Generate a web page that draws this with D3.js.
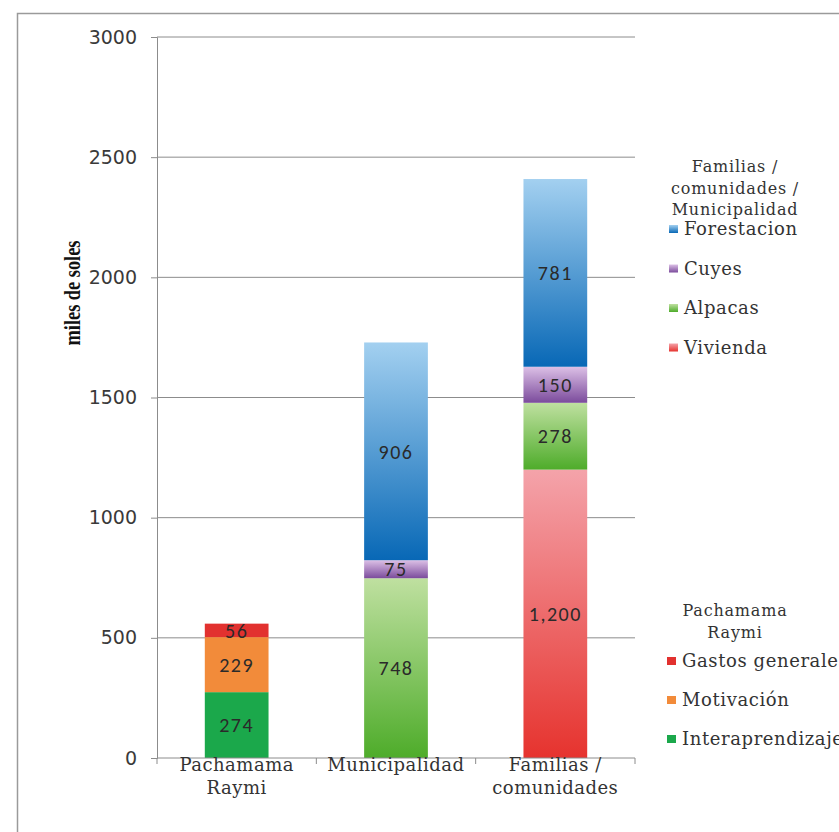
<!DOCTYPE html>
<html>
<head>
<meta charset="utf-8">
<script src="https://cdn.jsdelivr.net/npm/d3@7"></script>
<style>
  body { margin: 0; background: #fff; }
  svg { display: block; }
</style>
</head>
<body>
<script>
// Data
const categories = ['Pachamama Raymi', 'Municipalidad', 'Familias / comunidades'];
const categoryLines = [['Pachamama', 'Raymi'], ['Municipalidad'], ['Familias /', 'comunidades']];
const series = ['Interaprendizaje', 'Motivación', 'Gastos generales', 'Vivienda', 'Alpacas', 'Cuyes', 'Forestacion'];
const interaprendizaje = [274, 0, 0];
const motivacion = [229, 0, 0];
const gastosGenerales = [56, 0, 0];
const vivienda = [0, 0, 1200];
const alpacas = [0, 748, 278];
const cuyes = [0, 75, 150];
const forestacion = [0, 906, 781];
const yTicks = [0, 500, 1000, 1500, 2000, 2500, 3000];
const legendFamilias = ['Forestacion', 'Cuyes', 'Alpacas', 'Vivienda'];
const legendPacha = ['Gastos generales', 'Motivación', 'Interaprendizaje'];

const values = {
  'Interaprendizaje': interaprendizaje,
  'Motivación': motivacion,
  'Gastos generales': gastosGenerales,
  'Vivienda': vivienda,
  'Alpacas': alpacas,
  'Cuyes': cuyes,
  'Forestacion': forestacion
};

// colours: [top, bottom] for gradient fills
const fills = {
  'Interaprendizaje': ['#1ba84b', '#1ba84b'],
  'Motivación': ['#f28b3a', '#f28b3a'],
  'Gastos generales': ['#e2312f', '#e2312f'],
  'Vivienda': ['#f4a3aa', '#e6332e'],
  'Alpacas': ['#bfe0a0', '#4eac2a'],
  'Cuyes': ['#dcc0e6', '#7b4b9c'],
  'Forestacion': ['#a3d0f0', '#0868b6']
};

const W = 839, H = 832;
const svg = d3.select('body').append('svg').attr('width', W).attr('height', H);

const defs = svg.append('defs');
series.forEach((s, i) => {
  const g = defs.append('linearGradient').attr('id', 'grad' + i)
    .attr('x1', 0).attr('y1', 0).attr('x2', 0).attr('y2', 1);
  g.append('stop').attr('offset', '0%').attr('stop-color', fills[s][0]);
  g.append('stop').attr('offset', '100%').attr('stop-color', fills[s][1]);
});
const fillOf = s => `url(#grad${series.indexOf(s)})`;

// frame
svg.append('rect').attr('x', 17.5).attr('y', 13.5).attr('width', W).attr('height', H)
  .attr('fill', '#fff').attr('stroke', '#9a9a9a').attr('stroke-width', 1.5);

const x0 = 157, x1 = 635, yTop = 37, yBot = 758;
const x = d3.scaleBand().domain(categories).range([x0, x1]).paddingInner(0.6).paddingOuter(0.3);
const y = d3.scaleLinear().domain([0, 3000]).range([yBot, yTop]);

// gridlines
svg.append('g').selectAll('line').data(yTicks.filter(d => d > 0)).join('line')
  .attr('x1', x0).attr('x2', x1).attr('y1', d => y(d)).attr('y2', d => y(d))
  .attr('stroke', '#8c8c8c').attr('stroke-width', 1);

// stacked data
const table = categories.map((c, i) => {
  const row = { cat: c };
  series.forEach(s => row[s] = values[s][i]);
  return row;
});
const stacked = d3.stack().keys(series)(table);

const bars = svg.append('g');
stacked.forEach(layer => {
  bars.selectAll(null).data(layer.filter(d => d[1] - d[0] > 0)).join('rect')
    .attr('x', d => x(d.data.cat))
    .attr('width', x.bandwidth())
    .attr('y', d => y(d[1]))
    .attr('height', d => y(d[0]) - y(d[1]))
    .attr('fill', fillOf(layer.key));
});

// data labels
const fmt = d3.format(',');
stacked.forEach(layer => {
  bars.selectAll(null).data(layer.filter(d => d[1] - d[0] > 0)).join('text')
    .attr('x', d => x(d.data.cat) + x.bandwidth() / 2)
    .attr('y', d => (y(d[0]) + y(d[1])) / 2)
    .attr('dy', '0.36em')
    .attr('text-anchor', 'middle')
    .style('font-family', 'Carlito, Lato, sans-serif')
    .style('font-size', '20px')
    .style('letter-spacing', '1.5px')
    .attr('fill', '#2a2a2a')
    .text(d => fmt(d[1] - d[0]));
});

// axes
const yAxis = d3.axisLeft(y).tickValues(yTicks).tickSize(6).tickPadding(14).tickFormat(d3.format('d'));
const gy = svg.append('g').attr('transform', `translate(${x0},0)`).call(yAxis);
gy.select('.domain').attr('stroke', '#8c8c8c');
gy.selectAll('.tick line').attr('stroke', '#8c8c8c');
gy.selectAll('text').style('font-family', 'DejaVu Sans, sans-serif').style('font-size', '19px').attr('fill', '#3a3a3a');

svg.append('line').attr('x1', x0).attr('x2', x1).attr('y1', yBot).attr('y2', yBot).attr('stroke', '#8c8c8c');
const bounds = [x0].concat(categories.map(c => x(c) + x.bandwidth() + x.step() * 0.3));
svg.append('g').selectAll('line').data(bounds).join('line')
  .attr('x1', d => d).attr('x2', d => d).attr('y1', yBot).attr('y2', yBot + 6)
  .attr('stroke', '#8c8c8c');

const serif = 'DejaVu Serif, serif';
categories.forEach((c, i) => {
  const t = svg.append('text').attr('x', x(c) + x.bandwidth() / 2).attr('y', 771)
    .attr('text-anchor', 'middle').style('font-family', serif).style('font-size', '18px')
    .style('letter-spacing', '0.5px').attr('fill', '#333');
  categoryLines[i].forEach((l, j) => t.append('tspan').attr('x', x(c) + x.bandwidth() / 2).attr('dy', j ? 23 : 0).text(l));
});

// y title
svg.append('text').attr('transform', 'translate(80,293) rotate(-90)')
  .attr('text-anchor', 'middle')
  .attr('textLength', 105).attr('lengthAdjust', 'spacingAndGlyphs')
  .style('font-family', 'Liberation Serif, serif').style('font-weight', 'bold').style('font-size', '24px')
  .attr('fill', '#111').text('miles de soles');

// legends
function legend(titleLines, titleY, items, itemY0, gap, markerX) {
  const g = svg.append('g');
  titleLines.forEach((l, j) => g.append('text').attr('x', 735).attr('y', titleY + j * 21.5)
    .attr('text-anchor', 'middle').style('font-family', serif).style('font-size', '16px')
    .style('letter-spacing', '0.8px').attr('fill', '#333').text(l));
  items.forEach((s, j) => {
    const yy = itemY0 + j * gap;
    g.append('rect').attr('x', markerX).attr('y', yy - 4).attr('width', 9).attr('height', 8)
      .attr('fill', fillOf(s));
    g.append('text').attr('x', markerX + 15).attr('y', yy).attr('dy', '0.35em')
      .style('font-family', serif).style('font-size', '18px').style('letter-spacing', '0.6px')
      .attr('fill', '#333').text(s);
  });
}
legend(['Familias /', 'comunidades /', 'Municipalidad'], 172, legendFamilias, 229, 39.5, 669);
legend(['Pachamama', 'Raymi'], 616, legendPacha, 661, 39, 667);
</script>
</body>
</html>
